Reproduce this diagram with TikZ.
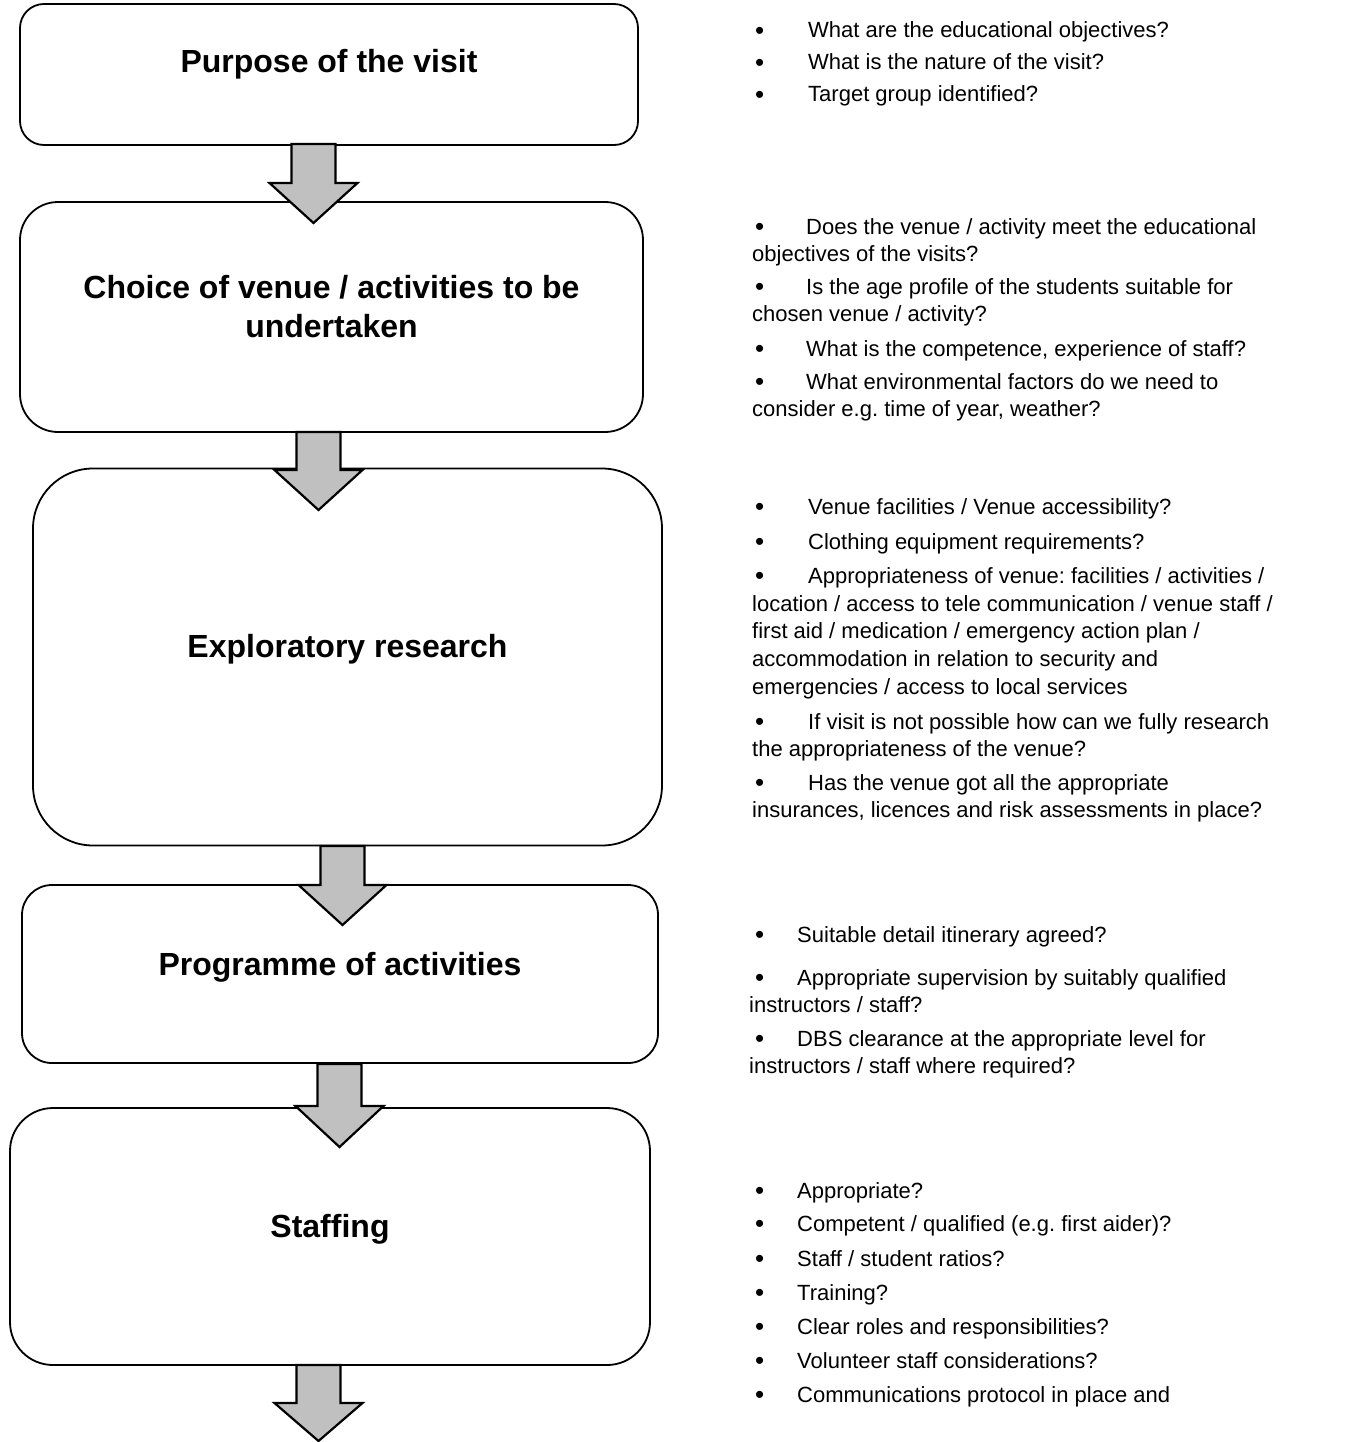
\documentclass[tikz,border=0pt]{standalone}
\usepackage{fontspec}
\setmainfont{Liberation Sans}
\begin{document}
\frenchspacing
\begin{tikzpicture}[x=1pt,y=-1pt,
  box/.style={draw=black,line width=1.8pt,fill=white,inner sep=0pt},
  ttl/.style={font=\bfseries\fontsize{32}{38}\selectfont,anchor=base,inner sep=0pt},
  txt/.style={font=\frenchspacing\fontsize{22}{27}\selectfont,anchor=base west,inner sep=0pt},
  bul/.style={font=\fontsize{26}{26}\selectfont,anchor=base west,inner sep=0pt,yshift=-1.5pt},
  barrow/.style={draw=black,line width=2.2pt,fill=arrowgray,line join=miter}]
\definecolor{arrowgray}{HTML}{C0C0C0}
\useasboundingbox (0,0) rectangle (1344,1442);
% boxes
\node[box,rounded corners=24pt,minimum width=618pt,minimum height=141pt] (b1) at (329,74.5) {};
\node[box,rounded corners=38pt,minimum width=623pt,minimum height=230pt] (b2) at (331.5,317) {};
\node[box,rounded corners=60pt,minimum width=629pt,minimum height=377pt] (b3) at (347.5,657) {};
\node[box,rounded corners=30pt,minimum width=636pt,minimum height=178pt] (b4) at (340,974) {};
\node[box,rounded corners=43pt,minimum width=640pt,minimum height=257pt] (b5) at (330,1236.5) {};
% titles
\node[ttl] (h1) at (b1.center |- 0,73) {Purpose of the visit};
\node[ttl] (h2a) at (b2.center |- 0,298) {Choice of venue / activities to be};
\node[ttl] (h2b) at (b2.center |- 0,337) {undertaken};
\node[ttl] (h3) at (b3.center |- 0,657) {Exploratory research};
\node[ttl] (h4) at (b4.center |- 0,975) {Programme of activities};
\node[ttl] (h5) at (b5.center |- 0,1237) {Staffing};
% block arrows
\coordinate (a1) at (313,144);
\coordinate (a2) at (318,432);
\coordinate (a3) at (342,846);
\coordinate (a4) at (339,1064);
\coordinate (a5) at (318,1365);
\draw[barrow] (a1) ++(-21.5,0) -- ++(0,39) -- ++(-22,0) -- ++(44,40) -- ++(44,-40) -- ++(-22,0) -- ++(0,-39) -- cycle;
\draw[barrow] (a2) ++(-21.5,0) -- ++(0,38) -- ++(-22,0) -- ++(44,40) -- ++(44,-40) -- ++(-22,0) -- ++(0,-38) -- cycle;
\draw[barrow] (a3) ++(-21.5,0) -- ++(0,39) -- ++(-22,0) -- ++(44,40) -- ++(44,-40) -- ++(-22,0) -- ++(0,-39) -- cycle;
\draw[barrow] (a4) ++(-21.5,0) -- ++(0,42) -- ++(-22,0) -- ++(44,41) -- ++(44,-41) -- ++(-22,0) -- ++(0,-42) -- cycle;
\draw[barrow] (a5) ++(-21.5,0) -- ++(0,38) -- ++(-22,0) -- ++(44,38) -- ++(44,-38) -- ++(-22,0) -- ++(0,-38) -- cycle;
% group 1
\node[bul] (p1) at (755,38) {•};  \node[txt] (q1) at (808,38) {What are the educational objectives?};
\node[bul] (p2) at (755,70) {•};  \node[txt] (q2) at (808,70) {What is the nature of the visit?};
\node[bul] (p3) at (755,102) {•}; \node[txt] (q3) at (808,102) {Target group identified?};
% group 2
\node[bul] (p4) at (755,234) {•}; \node[txt] (q4) at (806,234) {Does the venue / activity meet the educational};
\node[txt] (r4) at (752,261) {objectives of the visits?};
\node[bul] (p5) at (755,294) {•}; \node[txt] (q5) at (806,294) {Is the age profile of the students suitable for};
\node[txt] (r5) at (752,321) {chosen venue / activity?};
\node[bul] (p6) at (755,356) {•}; \node[txt] (q6) at (806,356) {What is the competence, experience of staff?};
\node[bul] (p7) at (755,389) {•}; \node[txt] (q7) at (806,389) {What environmental factors do we need to};
\node[txt] (r7) at (752,416) {consider e.g. time of year, weather?};
% group 3
\node[bul] (p8) at (755,514) {•}; \node[txt] (q8) at (808,514) {Venue facilities / Venue accessibility?};
\node[bul] (p9) at (755,549) {•}; \node[txt] (q9) at (808,549) {Clothing equipment requirements?};
\node[bul] (p10) at (755,583) {•}; \node[txt] (q10) at (808,583) {Appropriateness of venue: facilities / activities /};
\node[txt] (r10a) at (752,611) {location / access to tele communication / venue staff /};
\node[txt] (r10b) at (752,638) {first aid / medication / emergency action plan /};
\node[txt] (r10c) at (752,666) {accommodation in relation to security and};
\node[txt] (r10d) at (752,694) {emergencies / access to local services};
\node[bul] (p11) at (755,729) {•}; \node[txt] (q11) at (808,729) {If visit is not possible how can we fully research};
\node[txt] (r11) at (752,756) {the appropriateness of the venue?};
\node[bul] (p12) at (755,790) {•}; \node[txt] (q12) at (808,790) {Has the venue got all the appropriate};
\node[txt] (r12) at (752,817) {insurances, licences and risk assessments in place?};
% group 4
\node[bul] (p13) at (755,942) {•}; \node[txt] (q13) at (797,942) {Suitable detail itinerary agreed?};
\node[bul] (p14) at (755,985) {•}; \node[txt] (q14) at (797,985) {Appropriate supervision by suitably qualified};
\node[txt] (r14) at (749,1012) {instructors / staff?};
\node[bul] (p15) at (755,1046) {•}; \node[txt] (q15) at (797,1046) {DBS clearance at the appropriate level for};
\node[txt] (r15) at (749,1073) {instructors / staff where required?};
% group 5
\node[bul] (p16) at (755,1198) {•}; \node[txt] (q16) at (797,1198) {Appropriate?};
\node[bul] (p17) at (755,1231) {•}; \node[txt] (q17) at (797,1231) {Competent / qualified (e.g. first aider)?};
\node[bul] (p18) at (755,1266) {•}; \node[txt] (q18) at (797,1266) {Staff / student ratios?};
\node[bul] (p19) at (755,1300) {•}; \node[txt] (q19) at (797,1300) {Training?};
\node[bul] (p20) at (755,1334) {•}; \node[txt] (q20) at (797,1334) {Clear roles and responsibilities?};
\node[bul] (p21) at (755,1368) {•}; \node[txt] (q21) at (797,1368) {Volunteer staff considerations?};
\node[bul] (p22) at (755,1402) {•}; \node[txt] (q22) at (797,1402) {Communications protocol in place and};
\end{tikzpicture}
\end{document}
